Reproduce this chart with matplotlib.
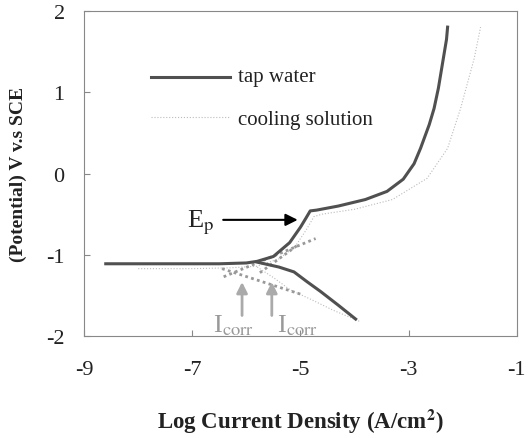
import numpy as np
import matplotlib.pyplot as plt

plt.rcParams['font.family'] = ['Liberation Serif', 'DejaVu Serif']
plt.rcParams['mathtext.fontset'] = 'stix'
plt.rcParams['axes.unicode_minus'] = False

# tap water polarization curve (anodic + cathodic branches)
tap_anodic_x = [-8.6, -7.5, -6.5, -6.0, -5.8, -5.5, -5.2, -5.0, -4.9, -4.82, -4.7,
                -4.3, -3.8, -3.4, -3.1, -2.9, -2.78, -2.62, -2.53, -2.45, -2.38, -2.3, -2.28]
tap_anodic_y = [-1.11, -1.11, -1.11, -1.10, -1.08, -1.02, -0.85, -0.66, -0.55, -0.46, -0.45,
                -0.40, -0.32, -0.22, -0.07, 0.12, 0.31, 0.60, 0.80, 1.05, 1.33, 1.65, 1.80]
tap_cath_x = [-5.8, -5.4, -5.12, -4.88, -4.63, -4.3, -3.98]
tap_cath_y = [-1.09, -1.15, -1.21, -1.33, -1.45, -1.62, -1.79]

# cooling solution curve
cool_anodic_x = [-8.0, -7.0, -6.3, -5.8, -5.4, -5.1, -4.9, -4.75, -4.6, -4.0, -3.3,
                 -2.66, -2.28, -2.04, -1.79, -1.67]
cool_anodic_y = [-1.17, -1.17, -1.16, -1.14, -1.05, -0.90, -0.70, -0.53, -0.50, -0.44, -0.32,
                 -0.06, 0.31, 0.80, 1.41, 1.80]
cool_cath_x = [-5.8, -5.5, -5.19, -4.8, -4.4, -3.9]
cool_cath_y = [-1.15, -1.28, -1.43, -1.55, -1.68, -1.82]

# Tafel extrapolation lines
tafel = [
    ([-6.42, -4.72], [-1.27, -0.80]),
    ([-5.75, -5.05], [-1.22, -0.88]),
    ([-6.45, -4.97], [-1.17, -1.49]),
]

fig = plt.figure(figsize=(5.29, 4.39), dpi=100)
ax = fig.add_axes([0.159, 0.232, 0.818, 0.741])

ax.plot(cool_anodic_x, cool_anodic_y, color='#bbbbbb', lw=0.8, ls=':')
ax.plot(cool_cath_x, cool_cath_y, color='#bbbbbb', lw=0.8, ls=':')
for tx, ty in tafel:
    ax.plot(tx, ty, color='#999999', lw=2, ls=(0, (1, 1.2)))
ax.plot(tap_anodic_x, tap_anodic_y, color='#505050', lw=2.2)
ax.plot(tap_cath_x, tap_cath_y, color='#505050', lw=2.2)

# legend drawn inside the axes
ax.plot([-7.76, -6.31], [1.19, 1.19], color='#505050', lw=2.2)
ax.plot([-7.76, -6.31], [0.7, 0.7], color='#bbbbbb', lw=0.8, ls=':')
ax.text(-6.15, 1.19, 'tap water', fontsize=15, va='center', color='#222222')
ax.text(-6.15, 0.66, 'cooling solution', fontsize=15, va='center', color='#222222')

# annotations
ax.annotate('', xy=(-5.0, -0.57), xytext=(-6.48, -0.57),
            arrowprops=dict(arrowstyle='-|>', color='black', lw=1.5, mutation_scale=18))
ax.text(-6.6, -0.6, r'E$_\mathrm{p}$', fontsize=19, ha='right', va='center', color='#222222')

for x0, lx in [(-6.08, -6.24), (-5.53, -5.06)]:
    ax.annotate('', xy=(x0, -1.30), xytext=(x0, -1.78),
                arrowprops=dict(arrowstyle='-|>', color='#aaaaaa', lw=2, mutation_scale=16))
    ax.text(lx, -1.86, r'I$_\mathrm{corr}$', fontsize=19, ha='center', va='center', color='#999999')

ax.set_xlim(-9, -1)
ax.set_ylim(-2, 2)
ax.set_xticks([-9, -7, -5, -3, -1])
ax.set_yticks([-2, -1, 0, 1, 2])
ax.tick_params(direction='in', length=4, color='#888888', labelsize=16, pad=17, labelcolor='#222222')
ax.tick_params(axis='y', pad=14)
for s in ax.spines.values():
    s.set_color('#888888')

ax.set_xlabel('Log Current Density (A/cm$^\\mathbf{2}$)', fontsize=16.5, fontweight='bold', labelpad=20, color='#222222')
ax.set_ylabel('(Potential) V v.s SCE', fontsize=14, fontweight='bold', labelpad=14, color='#222222')

fig.savefig('out.png', dpi=100)
